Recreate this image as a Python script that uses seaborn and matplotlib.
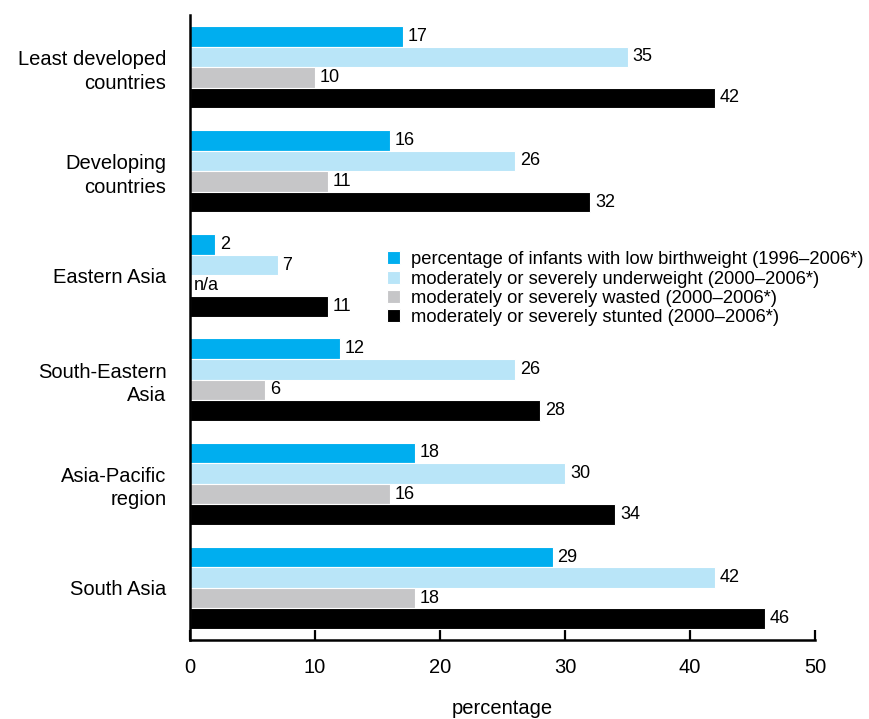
import numpy as np
import pandas as pd
import matplotlib
matplotlib.use("Agg")
import matplotlib.pyplot as plt
import seaborn as sns

regions = ["Least developed\ncountries", "Developing\ncountries", "Eastern Asia",
           "South-Eastern\nAsia", "Asia-Pacific\nregion", "South Asia"]
series = ["percentage of infants with low birthweight (1996\u20132006*)",
          "moderately or severely underweight (2000\u20132006*)",
          "moderately or severely wasted (2000\u20132006*)",
          "moderately or severely stunted (2000\u20132006*)"]
low_birthweight = [17, 16, 2, 12, 18, 29]
underweight = [35, 26, 7, 26, 30, 42]
wasted = [10, 11, np.nan, 6, 16, 18]
stunted = [42, 32, 11, 28, 34, 46]
colors = ["#00AEEF", "#B9E5F8", "#C6C6C8", "#000000"]
xticks = [0, 10, 20, 30, 40, 50]

all_vals = [low_birthweight, underweight, wasted, stunted]
rows = []
for s, vals in zip(series, all_vals):
    for r, v in zip(regions, vals):
        rows.append({"region": r, "series": s, "value": v})
df = pd.DataFrame(rows)

sns.set_style("white")
plt.rcParams["font.family"] = ["Liberation Sans", "DejaVu Sans"]
plt.rcParams["text.color"] = "black"
plt.rcParams["xtick.color"] = "black"
plt.rcParams["ytick.color"] = "black"
plt.rcParams["axes.labelcolor"] = "black"

fig = plt.figure(figsize=(8.69, 7.19), dpi=100)
ax = fig.add_axes([190/869, 1-640/719, 625/869, 625/719])

sns.barplot(data=df, y="region", x="value", hue="series", order=regions,
            hue_order=series, palette=colors, orient="h", width=0.79,
            saturation=1, edgecolor="white", linewidth=0.8, ax=ax, legend=True)

for cont, vals in zip(ax.containers, all_vals):
    patches = list(cont.patches)
    centers = [p.get_y() + p.get_height() / 2 for p in patches]
    offset = float(np.mean([c - round(c) for c in centers]))
    for i, v in enumerate(vals):
        yc = i + offset
        if np.isnan(v):
            ax.annotate("n/a", (0, yc), xytext=(2.5, 0), textcoords="offset points",
                        va="center", ha="left", fontsize=13)
    for p in patches:
        w = p.get_width()
        yc = p.get_y() + p.get_height() / 2
        if not np.isnan(w):
            ax.annotate(f"{w:g}", (w, yc), xytext=(3.5, 0), textcoords="offset points",
                        va="center", ha="left", fontsize=13)

ax.set_xlim(0, 50)
ax.set_ylim(5.5, -0.5)
ax.set_xticks(xticks)
ax.set_xticklabels([str(t) for t in xticks], fontsize=14.5)
ax.tick_params(axis="x", direction="in", length=7, width=1.6, pad=13, bottom=True)
ax.tick_params(axis="y", length=0, pad=17)
for lab in ax.get_yticklabels():
    lab.set_fontsize(14.5)
    lab.set_multialignment("right")
    lab.set_linespacing(1.3)
ax.set_ylabel("")
ax.set_xlabel("percentage", fontsize=14.5, labelpad=16)

sns.despine(ax=ax, top=True, right=True)
for sp in ["left", "bottom"]:
    ax.spines[sp].set_linewidth(1.8)
    ax.spines[sp].set_color("black")

handles, labels = ax.get_legend_handles_labels()
ax.legend(handles, labels, loc="upper left", bbox_to_anchor=(380/869, 1-244/719),
          bbox_transform=fig.transFigure, frameon=False, fontsize=13.2,
          handlelength=0.7, handleheight=0.7, handletextpad=0.6,
          labelspacing=0.12, borderaxespad=0, title=None)

fig.savefig("out.png", dpi=100)
